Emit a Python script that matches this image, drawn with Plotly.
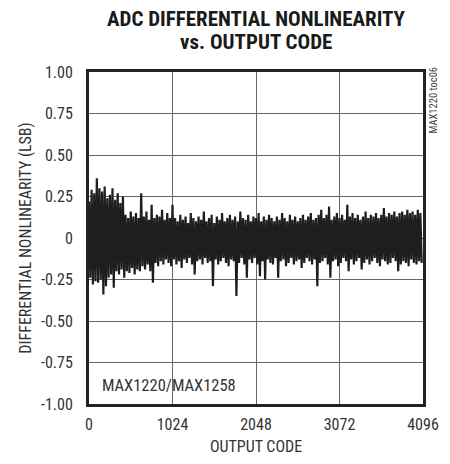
import plotly.graph_objects as go

# Positive peaks at codes 0, 32, 64, ... ; negative troughs at codes 16, 48, 80, ...
dnl_peaks = [
    0.22, 0.29, 0.27, 0.36, 0.30, 0.28, 0.31, 0.24, 0.26, 0.30,
    0.23, 0.27, 0.21, 0.25, 0.14, 0.12, 0.16, 0.13, 0.15, 0.12,
    0.27, 0.13, 0.16, 0.11, 0.20, 0.12, 0.14, 0.13, 0.17, 0.11,
    0.15, 0.12, 0.20, 0.12, 0.10, 0.14, 0.11, 0.13, 0.09, 0.15,
    0.12, 0.10, 0.13, 0.11, 0.16, 0.10, 0.12, 0.14, 0.09, 0.13,
    0.11, 0.15, 0.10, 0.12, 0.14, 0.11, 0.13, 0.10, 0.16, 0.12,
    0.11, 0.14, 0.10, 0.13, 0.12, 0.15, 0.10, 0.13, 0.11, 0.14,
    0.12, 0.10, 0.13, 0.11, 0.15, 0.12, 0.10, 0.14, 0.11, 0.13,
    0.10, 0.12, 0.14, 0.11, 0.13, 0.15, 0.11, 0.12, 0.14, 0.17,
    0.12, 0.14, 0.19, 0.11, 0.13, 0.15, 0.12, 0.14, 0.11, 0.20,
    0.13, 0.15, 0.12, 0.14, 0.11, 0.13, 0.16, 0.12, 0.14, 0.13,
    0.15, 0.12, 0.14, 0.18, 0.13, 0.15, 0.14, 0.16, 0.13, 0.15,
    0.16, 0.14, 0.17, 0.15, 0.16, 0.14, 0.17, 0.15,
]
dnl_troughs = [
    -0.24, -0.28, -0.26, -0.27, -0.25, -0.34, -0.29, -0.24, -0.22, -0.30,
    -0.20, -0.22, -0.19, -0.24, -0.20, -0.21, -0.18, -0.22, -0.19, -0.20,
    -0.17, -0.19, -0.16, -0.20, -0.27, -0.15, -0.17, -0.14, -0.16, -0.13,
    -0.15, -0.17, -0.13, -0.16, -0.14, -0.18, -0.13, -0.15, -0.12, -0.16,
    -0.22, -0.14, -0.13, -0.16, -0.12, -0.15, -0.14, -0.29, -0.13, -0.16,
    -0.14, -0.12, -0.15, -0.17, -0.13, -0.14, -0.35, -0.15, -0.12, -0.16,
    -0.24, -0.13, -0.15, -0.12, -0.16, -0.23, -0.14, -0.25, -0.13, -0.15,
    -0.16, -0.12, -0.24, -0.14, -0.13, -0.17, -0.15, -0.12, -0.16, -0.14,
    -0.13, -0.18, -0.15, -0.12, -0.14, -0.16, -0.13, -0.29, -0.15, -0.14,
    -0.12, -0.16, -0.24, -0.14, -0.13, -0.17, -0.15, -0.12, -0.14, -0.20,
    -0.13, -0.16, -0.14, -0.12, -0.19, -0.15, -0.13, -0.16, -0.14, -0.12,
    -0.15, -0.17, -0.13, -0.14, -0.16, -0.15, -0.12, -0.14, -0.20, -0.16,
    -0.14, -0.15, -0.17, -0.13, -0.15, -0.16, -0.14, -0.15,
]
code_step = 32
x_ticks = [0, 1024, 2048, 3072, 4096]
y_ticks = [1.0, 0.75, 0.5, 0.25, 0.0, -0.25, -0.5, -0.75, -1.0]
y_tick_text = ["1.00", "0.75", "0.50", "0.25", "0", "-0.25", "-0.50", "-0.75", "-1.00"]

peak_codes = [i * code_step for i in range(len(dnl_peaks))]
trough_codes = [i * code_step + code_step // 2 for i in range(len(dnl_troughs))]
codes, dnl = [], []
for pc, p, tc, t in zip(peak_codes, dnl_peaks, trough_codes, dnl_troughs):
    codes += [pc, tc]
    dnl += [p, t]

FONT = "Liberation Sans Narrow, Roboto Condensed, DejaVu Sans Condensed, Arial Narrow, sans-serif"
INK = "#1e1e1e"

fig = go.Figure()
fig.add_trace(go.Scatter(x=codes, y=dnl, mode="lines",
                         line=dict(color=INK, width=2.2, simplify=False), showlegend=False))

fig.update_layout(
    width=450, height=464,
    margin=dict(l=89, r=27, t=72, b=60),
    paper_bgcolor="white", plot_bgcolor="white",
    font=dict(family=FONT, size=16, color="#333333"),
    xaxis=dict(range=[0, 4096], tickvals=x_ticks, ticktext=[str(v) for v in x_ticks],
               showgrid=True, gridcolor="#666666", gridwidth=1,
               showline=True, linecolor="#222222", linewidth=3, mirror=True,
               ticks="", zeroline=False, ticklabelstandoff=4,
               title=dict(text="OUTPUT CODE", font=dict(family=FONT, size=16, color="#333333"), standoff=8),
               tickfont=dict(family=FONT, size=16, color="#333333")),
    yaxis=dict(range=[-1, 1], tickvals=y_ticks, ticktext=y_tick_text,
               showgrid=True, gridcolor="#666666", gridwidth=1,
               showline=True, linecolor="#222222", linewidth=3, mirror=True,
               ticks="", zeroline=False, ticklabelstandoff=10,
               title=dict(text="DIFFERENTIAL NONLINEARITY (LSB)", font=dict(family=FONT, size=16, color="#333333"), standoff=6),
               tickfont=dict(family=FONT, size=16, color="#333333")),
    annotations=[
        dict(text="<b>ADC DIFFERENTIAL NONLINEARITY</b>", xref="paper", yref="paper",
             x=0.5, y=1.0, yshift=53, xanchor="center", yanchor="middle", showarrow=False,
             font=dict(family=FONT, size=21, color="#1a1a1a")),
        dict(text="<b>vs. OUTPUT CODE</b>", xref="paper", yref="paper",
             x=0.5, y=1.0, yshift=30, xanchor="center", yanchor="middle", showarrow=False,
             font=dict(family=FONT, size=21, color="#1a1a1a")),
        dict(text="MAX1220/MAX1258", xref="paper", yref="paper",
             x=0.0, y=0.0, xshift=11, yshift=19, xanchor="left", yanchor="middle", showarrow=False,
             font=dict(family=FONT, size=16.5, color="#333333")),
        dict(text="MAX1220 toc06", xref="paper", yref="paper", textangle=-90,
             x=1.0, y=1.0, xshift=10, yshift=7, xanchor="center", yanchor="top", showarrow=False,
             font=dict(family=FONT, size=10.5, color="#444444")),
    ],
)

fig.write_html("out.html")
